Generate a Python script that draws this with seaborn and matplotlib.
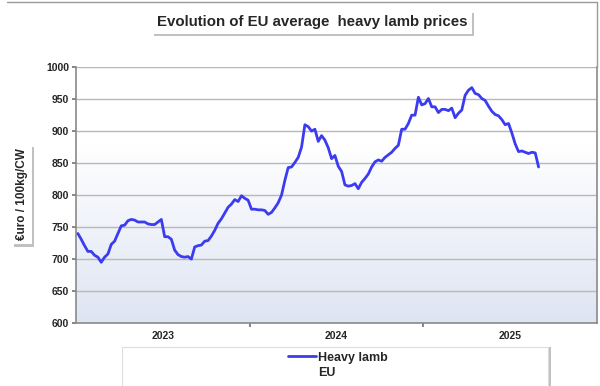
import numpy as np
import pandas as pd
import seaborn as sns
import matplotlib.pyplot as plt
import matplotlib.patheffects as pe
from matplotlib.patches import Rectangle
from matplotlib.lines import Line2D

# weekly EU heavy lamb prices (euro / 100kg carcass weight), from week 1 of 2023
prices = [
    740, 731, 721, 712, 712, 706, 703, 695, 703, 708,
    723, 728, 740, 752, 753, 760, 762, 761, 758, 758,
    758, 755, 754, 754, 758, 762, 735, 735, 731, 714,
    707, 704, 703, 704, 700, 719, 721, 722, 728, 729,
    736, 745, 756, 763, 772, 781, 786, 793, 790, 799,
    795, 792, 778, 778, 777, 777, 776, 770, 773, 780,
    788, 800, 823, 843, 844, 851, 859, 875, 910, 907,
    900, 903, 884, 893, 886, 874, 857, 862, 845, 837,
    816, 814, 815, 818, 810, 820, 826, 833, 844, 852,
    855, 853, 859, 863, 867, 873, 878, 903, 903, 912,
    925, 925, 953, 941, 943, 951, 938, 938, 929, 934,
    934, 932, 936, 921, 928, 933, 956, 964, 968, 959,
    957, 951, 948, 939, 931, 926, 924, 918, 910, 912,
    897, 880, 868, 869, 867, 865, 867, 866, 844,
]
years = ["2023", "2024", "2025"]
weeks_per_year = 52
series_name = "Heavy lamb"
region = "EU"

df = pd.DataFrame({"week": np.arange(len(prices)), "price": prices})

sns.set_theme(style="white")
plt.rcParams["font.family"] = ["Liberation Sans", "DejaVu Sans"]

fig = plt.figure(figsize=(6, 3.86), dpi=100)
ax = fig.add_axes([0.127, 0.163, 0.868, 0.663])

x0, x1 = -0.5, weeks_per_year * len(years) - 0.5
ax.set_xlim(x0, x1)
ax.set_ylim(600, 1000)

# soft vertical gradient behind the plot
grad = np.linspace(0, 1, 256).reshape(-1, 1)
top = np.array([1.0, 1.0, 1.0])
bottom = np.array([0.87, 0.895, 0.95])
w = np.clip((grad - 0.3) / 0.7, 0, 1)
img = top + (bottom - top) * w[..., None]
ax.imshow(img, extent=[x0, x1, 600, 1000], aspect="auto", origin="upper", zorder=0)

ax.set_yticks(range(600, 1001, 50))
ax.yaxis.grid(True, color="#b8b8b8", linewidth=1.0)
ax.set_axisbelow(True)

sns.lineplot(data=df, x="week", y="price", color="#3b3bf2", linewidth=2.0,
             label=series_name, ax=ax, zorder=3)

# year boundaries as ticks, year names centred between them
bounds = [x0 + weeks_per_year * k for k in range(1, len(years))]
ax.set_xticks(bounds)
ax.set_xticklabels([])
ax.set_xticks([x0 + weeks_per_year * (k + 0.5) for k in range(len(years))], minor=True)
ax.set_xticklabels(years, minor=True, fontsize=7.5, fontweight="bold")
ax.tick_params(axis="x", which="major", length=3, color="#777777", direction="out", bottom=True)
ax.tick_params(axis="x", which="minor", length=0, pad=6)
ax.tick_params(axis="y", length=3, color="#777777", direction="out", left=True,
               labelsize=7.5, pad=2)
for t in ax.get_yticklabels():
    t.set_fontweight("bold")

for side in ["left", "bottom", "right"]:
    ax.spines[side].set_color("#8a8a8a")
    ax.spines[side].set_linewidth(1.2)
ax.spines["top"].set_visible(False)
ax.set_xlabel("")
ax.set_ylabel("")

shadow = [pe.withSimplePatchShadow(offset=(1.5, -2), shadow_rgbFace="#999999", alpha=0.6)]

title = fig.text(0.52, 0.943, "Evolution of EU average  heavy lamb prices", ha="center",
                 va="center", fontsize=10.8, fontweight="bold",
                 bbox=dict(boxstyle="square,pad=0.3", fc="white", ec="none"))
title.get_bbox_patch().set_path_effects(shadow)

ylab = fig.text(0.037, 0.497, "€uro / 100kg/CW", ha="center", va="center", rotation=90,
                fontsize=8.5, fontweight="bold",
                bbox=dict(boxstyle="square,pad=0.35", fc="white", ec="none"))
ylab.get_bbox_patch().set_path_effects(shadow)

# legend panel
box = Rectangle((0.203, -0.02), 0.71, 0.12, transform=fig.transFigure, fc="white",
                ec="#dddddd", lw=0.8)
box.set_path_effects([pe.withSimplePatchShadow(offset=(2, 0), shadow_rgbFace="#999999",
                                               alpha=0.6)])
fig.add_artist(box)
ax.get_legend().remove()
handles, labels = ax.get_legend_handles_labels()
handles.append(Line2D([], [], color="none"))
labels.append(region)
fig.legend(handles, labels, loc="center", bbox_to_anchor=(0.563, 0.054),
           frameon=False, handlelength=2.3, handletextpad=0.15, labelspacing=0.25,
           borderpad=0, prop={"weight": "bold", "size": 9})

# outer frame (top edge and right edge above the plot)
fig.add_artist(Line2D([0.012, 0.995], [0.994, 0.994], transform=fig.transFigure,
                      color="#9a9a9a", lw=1.0))
fig.add_artist(Line2D([0.995, 0.995], [0.994, 0.826], transform=fig.transFigure,
                      color="#9a9a9a", lw=1.0))

fig.savefig("out.png", dpi=100)
